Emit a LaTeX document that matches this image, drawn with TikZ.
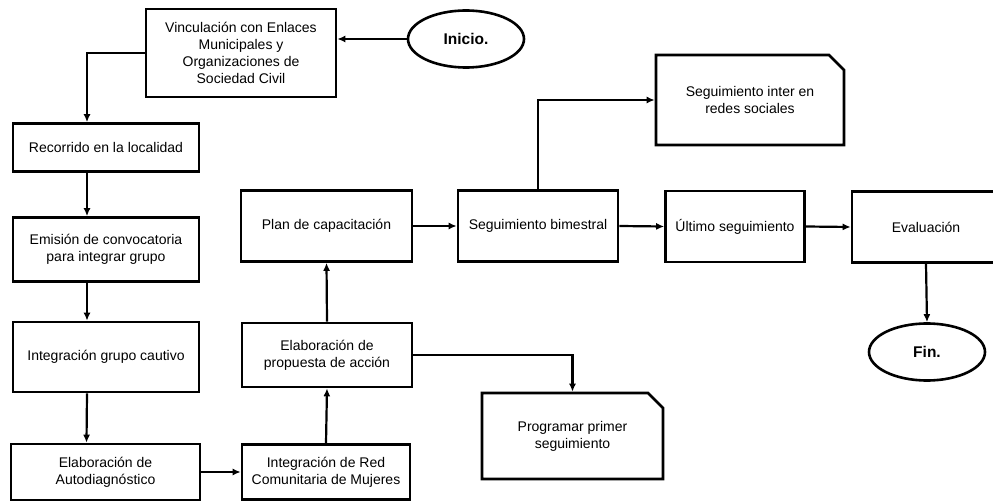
\documentclass[tikz,border=0pt]{standalone}
\usepackage{fontspec}
\setmainfont{Liberation Sans}
\usetikzlibrary{shapes.geometric,shapes.misc,arrows.meta}

\tikzset{
  box/.style={draw, line width=2.6pt, align=center, inner sep=2pt,
    font=\fontsize{14}{17}\selectfont},
  note/.style={box, chamfered rectangle, chamfered rectangle corners=north east,
    chamfered rectangle xsep=7pt, chamfered rectangle ysep=8pt},
  term/.style={draw, ellipse, line width=2.6pt, inner sep=0pt,
    minimum width=116pt, minimum height=57pt,
    font=\fontsize{15.5}{18}\selectfont\bfseries},
  flow/.style={line width=2.2pt, -{Latex[length=8pt,width=7pt]}}
}

\begin{document}
\begin{tikzpicture}[x=1pt,y=-1pt]
\useasboundingbox (0,0) rectangle (993,502);

% start and end
\node[term] (inicio) at (466,39) {Inicio.};
\node[term] (fin) at (927,352) {Fin.};

% left column
\node[box, minimum width=190pt, minimum height=88pt] (vinc) at (241,53)
  {Vinculación con Enlaces\\Municipales y\\Organizaciones de\\Sociedad Civil};
\node[box, minimum width=186pt, minimum height=48pt] (recorr) at (106,147.5)
  {Recorrido en la localidad};
\node[box, minimum width=186pt, minimum height=64pt] (emision) at (106,249.5)
  {Emisión de convocatoria\\para integrar grupo};
\node[box, minimum width=186pt, minimum height=70pt] (integ) at (106,357)
  {Integración grupo cautivo};
\node[box, minimum width=189pt, minimum height=56pt] (autodiag) at (105.5,472)
  {Elaboración de\\Autodiagnóstico};

% middle column
\node[box, minimum width=168pt, minimum height=55pt] (red) at (326,472)
  {Integración de Red\\Comunitaria de Mujeres};
\node[box, minimum width=170pt, minimum height=64pt] (prop) at (327,355)
  {Elaboración de\\propuesta de acción};
\node[box, minimum width=171pt, minimum height=71pt] (plan) at (326.5,226)
  {Plan de capacitación};

% top row
\node[box, minimum width=160pt, minimum height=71pt] (bimest) at (538,226)
  {Seguimiento bimestral};
\node[box, minimum width=139pt, minimum height=71pt] (ultimo) at (735,226.5)
  {Último seguimiento};
\node[box, minimum width=148pt, minimum height=71pt] (eval) at (926,227)
  {Evaluación};

% notes
\node[note, minimum width=188pt, minimum height=90pt] (redes) at (750,100)
  {Seguimiento inter en\\redes sociales};
\node[note, minimum width=181pt, minimum height=86pt] (prog) at (572.5,436)
  {Programar primer\\seguimiento};

% connectors
\draw[flow] (inicio.west) -- (inicio.west -| vinc.east);
\draw[flow] (vinc.west) -| ([xshift=-19pt]recorr.north);
\draw[flow] ([xshift=-19pt]recorr.south) -- ([xshift=-19pt]emision.north);
\draw[flow] ([xshift=-19pt]emision.south) -- ([xshift=-19pt]integ.north);
\draw[flow] ([xshift=-19pt]integ.south) -- ([xshift=-19pt]autodiag.north);
\draw[flow] (autodiag.east) -- (red.west);
\draw[flow] (red.north) -- (prop.south);
\draw[flow] (prop.north) -- (plan.south);
\draw[flow] (prop.east) -| (prog.north);
\draw[flow] (plan.east) -- (bimest.west);
\draw[flow] (bimest.north) |- (redes.west);
\draw[flow] (bimest.east) -- (ultimo.west);
\draw[flow] (ultimo.east) -- (eval.west);
\draw[flow] (eval.south) -- (fin.north);
\end{tikzpicture}
\end{document}
